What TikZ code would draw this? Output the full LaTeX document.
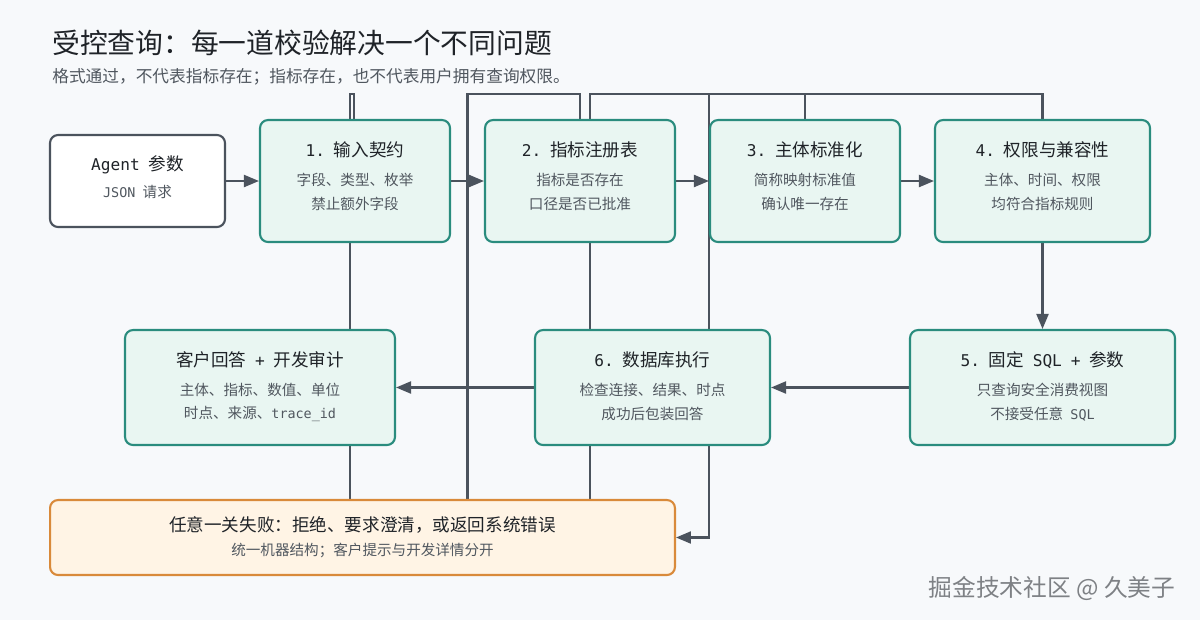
\documentclass[tikz,border=0pt]{standalone}
\usepackage{fontspec}
\setmainfont{Noto Sans CJK SC}
\newfontfamily\monofnt[Scale=0.92]{DejaVu Sans Mono}
\usetikzlibrary{arrows.meta,calc,positioning}
\pgfdeclarelayer{bg}
\pgfdeclarelayer{edges}
\pgfsetlayers{bg,edges,main}

\definecolor{bgc}{HTML}{F7F9FB}
\definecolor{linec}{HTML}{4B535D}
\definecolor{tealc}{HTML}{2A8C7E}
\definecolor{tealf}{HTML}{E9F6F2}
\definecolor{orgc}{HTML}{D98A3A}
\definecolor{orgf}{HTML}{FFF4E5}
\definecolor{txtc}{HTML}{1F2328}
\definecolor{subc}{HTML}{50575F}
\definecolor{wmc}{HTML}{7E8185}

\newcommand\m[1]{{\monofnt #1}}
\newcommand\gap{\hspace{.5em}}

\tikzset{
  conn/.style={draw=linec, line width=1.2pt},
  arr/.style={conn, -{Triangle[length=0.3cm,width=0.24cm]}},
  stage/.style={draw=tealc, fill=tealf, line width=1.2pt, rounded corners=0.16cm},
  ttl/.style={inner sep=0pt, text=txtc, font=\fontsize{10}{12}\selectfont},
  sub/.style={inner sep=0pt, text=subc, font=\fontsize{8.3}{10}\selectfont},
}

\begin{document}
\begin{tikzpicture}[x=0.02cm,y=-0.02cm]

\useasboundingbox (0,0) rectangle (1200,620);
\begin{pgfonlayer}{bg}
\fill[bgc] (0,0) rectangle (1200,620);
\end{pgfonlayer}

\node[anchor=west, inner sep=0pt, text=txtc, font=\fontsize{15.8}{19}\selectfont] (title) at (52,43)
  {受控查询：每一道校验解决一个不同问题};
\node[anchor=west, inner sep=0pt, text=subc, font=\fontsize{9.5}{12}\selectfont] (subtitle) at (52,77)
  {格式通过，不代表指标存在；指标存在，也不代表用户拥有查询权限。};

\node[draw=linec, fill=white, line width=1.2pt, rounded corners=0.16cm,
      minimum width=3.5cm, minimum height=1.84cm] (agent) at (137.5,181) {};
\node[ttl] (agent-t) at ($(agent.north)+(0,31)$) {\m{Agent}\gap 参数};
\node[sub] (agent-a) at ($(agent.north)+(0,58)$) {\m{JSON}\gap 请求};

\foreach \n/\x/\y/\w/\h/\t/\a/\b in {
  b1/355/181/3.8/2.44/{\m{1.}\gap 输入契约}/{字段、类型、枚举}/{禁止额外字段},
  b2/580/181/3.8/2.44/{\m{2.}\gap 指标注册表}/{指标是否存在}/{口径是否已批准},
  b3/805/181/3.8/2.44/{\m{3.}\gap 主体标准化}/{简称映射标准值}/{确认唯一存在},
  b4/1042.5/181/4.3/2.44/{\m{4.}\gap 权限与兼容性}/{主体、时间、权限}/{均符合指标规则},
  b5/1042.5/387.5/5.3/2.3/{\m{5.}\gap 固定\gap\m{SQL}\gap\m{+}\gap 参数}/{只查询安全消费视图}/{不接受任意\gap\m{SQL}},
  b6/652.5/387.5/4.7/2.3/{\m{6.}\gap 数据库执行}/{检查连接、结果、时点}/{成功后包装回答},
  cust/260/387.5/5.4/2.3/{客户回答\gap\m{+}\gap 开发审计}/{主体、指标、数值、单位}/{时点、来源、\m{trace\_id}}}
{
  \node[stage, minimum width=\w cm, minimum height=\h cm] (\n) at (\x,\y) {};
  \node[ttl] (\n-t) at ($(\n.north)+(0,31)$) {\t};
  \node[sub] (\n-a) at ($(\n.north)+(0,61)$) {\a};
  \node[sub] (\n-b) at ($(\n.north)+(0,85)$) {\b};
}

\node[draw=orgc, fill=orgf, line width=1.2pt, rounded corners=0.16cm,
      minimum width=12.5cm, minimum height=1.5cm] (fail) at (362.5,537.5) {};
\node[ttl] (fail-t) at ($(fail.north)+(0,26)$) {任意一关失败：拒绝、要求澄清，或返回系统错误};
\node[sub] (fail-a) at ($(fail.north)+(0,52)$) {统一机器结构；客户提示与开发详情分开};

\node[text=wmc, inner sep=0pt, font=\fontsize{13.5}{16}\selectfont] (mark) at (1052,588) {掘金技术社区 @ 久美子};

\begin{pgfonlayer}{edges}
  \coordinate (rail) at ($(b2.north)+(0,-25)$);
  \coordinate (gap12) at ($(b1.east)!0.5!(b2.west)$);
  \coordinate (d1) at ([xshift=-0.1cm]b1.south);
  \coordinate (d2) at ([xshift=0.2cm]b2.south);

  \foreach \a/\b in {agent/b1,b1/b2,b2/b3,b3/b4}
    \draw[arr] (\a.east) -- (\b.west);
  \draw[arr] (b4.south) -- (b5.north);
  \draw[arr] (b5.west) -- (b6.east);
  \draw[arr] (b6.west) -- (cust.east);

  \draw[conn] ([xshift=-0.1cm]b1.north) -- ++(0,-25) -- ++(4,0) -- ++(0,25);
  \draw[conn] (d1) -- (d1 |- fail.north);
  \draw[conn] (b2.north) -- (b2.north |- rail) -| (gap12 |- fail.north);
  \draw[conn] ([xshift=0.2cm]b2.north) |- (b4.north |- rail) -- (b4.north);
  \draw[conn] (b3.north) -- (b3.north |- rail);
  \draw[arr] (b3.west |- rail) |- (fail.east);
  \draw[conn] (d2) -- (d2 |- fail.north);
\end{pgfonlayer}

\end{tikzpicture}
\end{document}
